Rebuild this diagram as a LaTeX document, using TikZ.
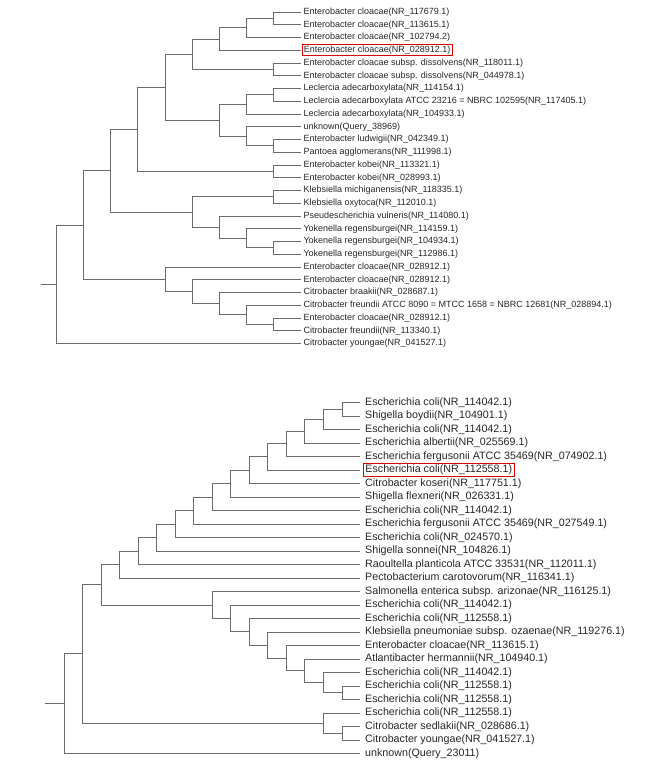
\documentclass[tikz,border=0pt]{standalone}
\usepackage{fontspec}
\setmainfont{Liberation Sans}
\begin{document}
\begin{tikzpicture}[x=1pt,y=-1pt,
  edge/.style={draw=black!58, line width=0.9pt},
  tedge/.style={edge, shorten >=1pt},
  bedge/.style={edge, shorten >=3pt},
  tleaf/.style={anchor=west, inner xsep=1.8pt, inner ysep=1.5pt, font=\fontsize{9}{10}\selectfont, text=black!85},
  bleaf/.style={anchor=west, inner xsep=2pt, inner ysep=1.5pt, font=\fontsize{10.7}{12}\selectfont, text=black!85},
  hilite/.style={draw=red!85!black, line width=0.9pt}
]
\useasboundingbox (0,0) rectangle (669,768);

% ---------------- top tree leaves ----------------
\node[tleaf] (t1)  at (301.5,12)     {Enterobacter cloacae(NR\_117679.1)};
\node[tleaf] (t2)  at (301.5,24.75)  {Enterobacter cloacae(NR\_113615.1)};
\node[tleaf] (t3)  at (301.5,37.5)   {Enterobacter cloacae(NR\_102794.2)};
\node[tleaf,hilite] (t4)  at (301.5,50.25)  {Enterobacter cloacae(NR\_028912.1)};
\node[tleaf] (t5)  at (301.5,63)     {Enterobacter cloacae subsp. dissolvens(NR\_118011.1)};
\node[tleaf] (t6)  at (301.5,75.75)  {Enterobacter cloacae subsp. dissolvens(NR\_044978.1)};
\node[tleaf] (t7)  at (301.5,88.5)   {Leclercia adecarboxylata(NR\_114154.1)};
\node[tleaf] (t8)  at (301.5,101.25) {Leclercia adecarboxylata ATCC 23216 = NBRC 102595(NR\_117405.1)};
\node[tleaf] (t9)  at (301.5,114)    {Leclercia adecarboxylata(NR\_104933.1)};
\node[tleaf] (t10) at (301.5,126.75) {unknown(Query\_38969)};
\node[tleaf] (t11) at (301.5,139.5)  {Enterobacter ludwigii(NR\_042349.1)};
\node[tleaf] (t12) at (301.5,152.25) {Pantoea agglomerans(NR\_111998.1)};
\node[tleaf] (t13) at (301.5,165)    {Enterobacter kobei(NR\_113321.1)};
\node[tleaf] (t14) at (301.5,177.75) {Enterobacter kobei(NR\_028993.1)};
\node[tleaf] (t15) at (301.5,190.5)  {Klebsiella michiganensis(NR\_118335.1)};
\node[tleaf] (t16) at (301.5,203.25) {Klebsiella oxytoca(NR\_112010.1)};
\node[tleaf] (t17) at (301.5,216)    {Pseudescherichia vulneris(NR\_114080.1)};
\node[tleaf] (t18) at (301.5,228.75) {Yokenella regensburgei(NR\_114159.1)};
\node[tleaf] (t19) at (301.5,241.5)  {Yokenella regensburgei(NR\_104934.1)};
\node[tleaf] (t20) at (301.5,254.25) {Yokenella regensburgei(NR\_112986.1)};
\node[tleaf] (t21) at (301.5,267)    {Enterobacter cloacae(NR\_028912.1)};
\node[tleaf] (t22) at (301.5,279.75) {Enterobacter cloacae(NR\_028912.1)};
\node[tleaf] (t23) at (301.5,292.5)  {Citrobacter braakii(NR\_028687.1)};
\node[tleaf] (t24) at (301.5,305.25) {Citrobacter freundii ATCC 8090 = MTCC 1658 = NBRC 12681(NR\_028894.1)};
\node[tleaf] (t25) at (301.5,318)    {Enterobacter cloacae(NR\_028912.1)};
\node[tleaf] (t26) at (301.5,330.75) {Citrobacter freundii(NR\_113340.1)};
\node[tleaf] (t27) at (301.5,343.5)  {Citrobacter youngae(NR\_041527.1)};

% ---------------- top tree internal nodes ----------------
\coordinate (T12)   at (273,18.375);
\coordinate (A)     at (246,27.94);
\coordinate (B)     at (219,39.09);
\coordinate (T56)   at (273,69.375);
\coordinate (C)     at (192,54.23);
\coordinate (T78)   at (273,94.875);
\coordinate (F)     at (246,104.44);
\coordinate (T1112) at (273,145.875);
\coordinate (G)     at (246,136.31);
\coordinate (E)     at (219,120.375);
\coordinate (D)     at (165,87.30);
\coordinate (T1314) at (273,171.375);
\coordinate (H)     at (137,129.34);
\coordinate (T1516) at (273,196.875);
\coordinate (T1920) at (273,247.875);
\coordinate (L)     at (246,238.31);
\coordinate (K)     at (219,227.16);
\coordinate (J)     at (192,212.02);
\coordinate (I)     at (110,170.68);
\coordinate (T2526) at (273,324.375);
\coordinate (Q)     at (246,314.81);
\coordinate (P)     at (219,303.66);
\coordinate (O)     at (192,291.70);
\coordinate (N)     at (165,279.35);
\coordinate (M)     at (83,225.02);
\coordinate (R)     at (56,284.26);
\coordinate (Rstub) at (41,284.26);

\foreach \p/\c in {T12/t1,T12/t2,A/t3,B/t4,T56/t5,T56/t6,T78/t7,T78/t8,F/t9,G/t10,
  T1112/t11,T1112/t12,T1314/t13,T1314/t14,T1516/t15,T1516/t16,K/t17,L/t18,
  T1920/t19,T1920/t20,N/t21,O/t22,P/t23,Q/t24,T2526/t25,T2526/t26,R/t27}
  \draw[tedge] (\p) |- (\c);
\foreach \p/\c in {A/T12,B/A,C/B,C/T56,F/T78,G/T1112,E/F,E/G,D/C,D/E,H/D,H/T1314,
  L/T1920,K/L,J/T1516,J/K,I/H,I/J,Q/T2526,P/Q,O/P,N/O,M/I,M/N,R/M}
  \draw[edge] (\p) |- (\c);
\draw[edge] (Rstub) -- (R);

% ---------------- bottom tree leaves ----------------
\node[bleaf] (u1)  at (363,402.5) {Escherichia coli(NR\_114042.1)};
\node[bleaf] (u2)  at (363,416)   {Shigella boydii(NR\_104901.1)};
\node[bleaf] (u3)  at (363,429.5) {Escherichia coli(NR\_114042.1)};
\node[bleaf] (u4)  at (363,443)   {Escherichia albertii(NR\_025569.1)};
\node[bleaf] (u5)  at (363,456.5) {Escherichia fergusonii ATCC 35469(NR\_074902.1)};
\node[bleaf,hilite] (u6)  at (363,470)   {Escherichia coli(NR\_112558.1)};
\node[bleaf] (u7)  at (363,483.5) {Citrobacter koseri(NR\_117751.1)};
\node[bleaf] (u8)  at (363,497)   {Shigella flexneri(NR\_026331.1)};
\node[bleaf] (u9)  at (363,510.5) {Escherichia coli(NR\_114042.1)};
\node[bleaf] (u10) at (363,524)   {Escherichia fergusonii ATCC 35469(NR\_027549.1)};
\node[bleaf] (u11) at (363,537.5) {Escherichia coli(NR\_024570.1)};
\node[bleaf] (u12) at (363,551)   {Shigella sonnei(NR\_104826.1)};
\node[bleaf] (u13) at (363,564.5) {Raoultella planticola ATCC 33531(NR\_112011.1)};
\node[bleaf] (u14) at (363,578)   {Pectobacterium carotovorum(NR\_116341.1)};
\node[bleaf] (u15) at (363,591.5) {Salmonella enterica subsp. arizonae(NR\_116125.1)};
\node[bleaf] (u16) at (363,605)   {Escherichia coli(NR\_114042.1)};
\node[bleaf] (u17) at (363,618.5) {Escherichia coli(NR\_112558.1)};
\node[bleaf] (u18) at (363,632)   {Klebsiella pneumoniae subsp. ozaenae(NR\_119276.1)};
\node[bleaf] (u19) at (363,645.5) {Enterobacter cloacae(NR\_113615.1)};
\node[bleaf] (u20) at (363,659)   {Atlantibacter hermannii(NR\_104940.1)};
\node[bleaf] (u21) at (363,672.5) {Escherichia coli(NR\_114042.1)};
\node[bleaf] (u22) at (363,686)   {Escherichia coli(NR\_112558.1)};
\node[bleaf] (u23) at (363,699.5) {Escherichia coli(NR\_112558.1)};
\node[bleaf] (u24) at (363,713)   {Escherichia coli(NR\_112558.1)};
\node[bleaf] (u25) at (363,726.5) {Citrobacter sedlakii(NR\_028686.1)};
\node[bleaf] (u26) at (363,740)   {Citrobacter youngae(NR\_041527.1)};
\node[bleaf] (u27) at (363,753.5) {unknown(Query\_23011)};

% ---------------- bottom tree internal nodes ----------------
\coordinate (bP12)   at (342,409.25);
\coordinate (ba1)    at (323.4,419.375);
\coordinate (ba2)    at (304.9,431.19);
\coordinate (ba3)    at (286.4,443.84);
\coordinate (ba4)    at (267.8,456.92);
\coordinate (ba5)    at (249.3,470.21);
\coordinate (ba6)    at (230.8,483.61);
\coordinate (ba7)    at (212.2,497.05);
\coordinate (ba8)    at (193.7,510.53);
\coordinate (ba9)    at (175.2,524.01);
\coordinate (ba10)   at (156.7,537.51);
\coordinate (ba11)   at (138.1,551.0);
\coordinate (ba12)   at (119.6,564.5);
\coordinate (bP2223) at (342,692.75);
\coordinate (bb7)    at (323.4,682.63);
\coordinate (bb6)    at (304.9,670.81);
\coordinate (bb5)    at (286.4,658.16);
\coordinate (bb4)    at (267.8,645.08);
\coordinate (bb3)    at (249.3,631.79);
\coordinate (bb2)    at (230.8,618.40);
\coordinate (bb1)    at (212.2,604.95);
\coordinate (ba13)   at (101.1,584.73);
\coordinate (bP2526) at (342,733.25);
\coordinate (bd)     at (323.4,723.13);
\coordinate (bc)     at (82.5,653.93);
\coordinate (broot)  at (64,703.7);
\coordinate (bstub)  at (45,703.7);

\foreach \p/\c in {bP12/u1,bP12/u2,ba1/u3,ba2/u4,ba3/u5,ba4/u6,ba5/u7,ba6/u8,ba7/u9,
  ba8/u10,ba9/u11,ba10/u12,ba11/u13,ba12/u14,bb1/u15,bb2/u16,bb3/u17,bb4/u18,
  bb5/u19,bb6/u20,bb7/u21,bP2223/u22,bP2223/u23,bd/u24,bP2526/u25,bP2526/u26,broot/u27}
  \draw[bedge] (\p) |- (\c);
\foreach \p/\c in {ba1/bP12,ba2/ba1,ba3/ba2,ba4/ba3,ba5/ba4,ba6/ba5,ba7/ba6,ba8/ba7,
  ba9/ba8,ba10/ba9,ba11/ba10,ba12/ba11,bb7/bP2223,bb6/bb7,bb5/bb6,bb4/bb5,bb3/bb4,
  bb2/bb3,bb1/bb2,ba13/ba12,ba13/bb1,bd/bP2526,bc/ba13,bc/bd,broot/bc}
  \draw[edge] (\p) |- (\c);
\draw[edge] (bstub) -- (broot);
\end{tikzpicture}
\end{document}
